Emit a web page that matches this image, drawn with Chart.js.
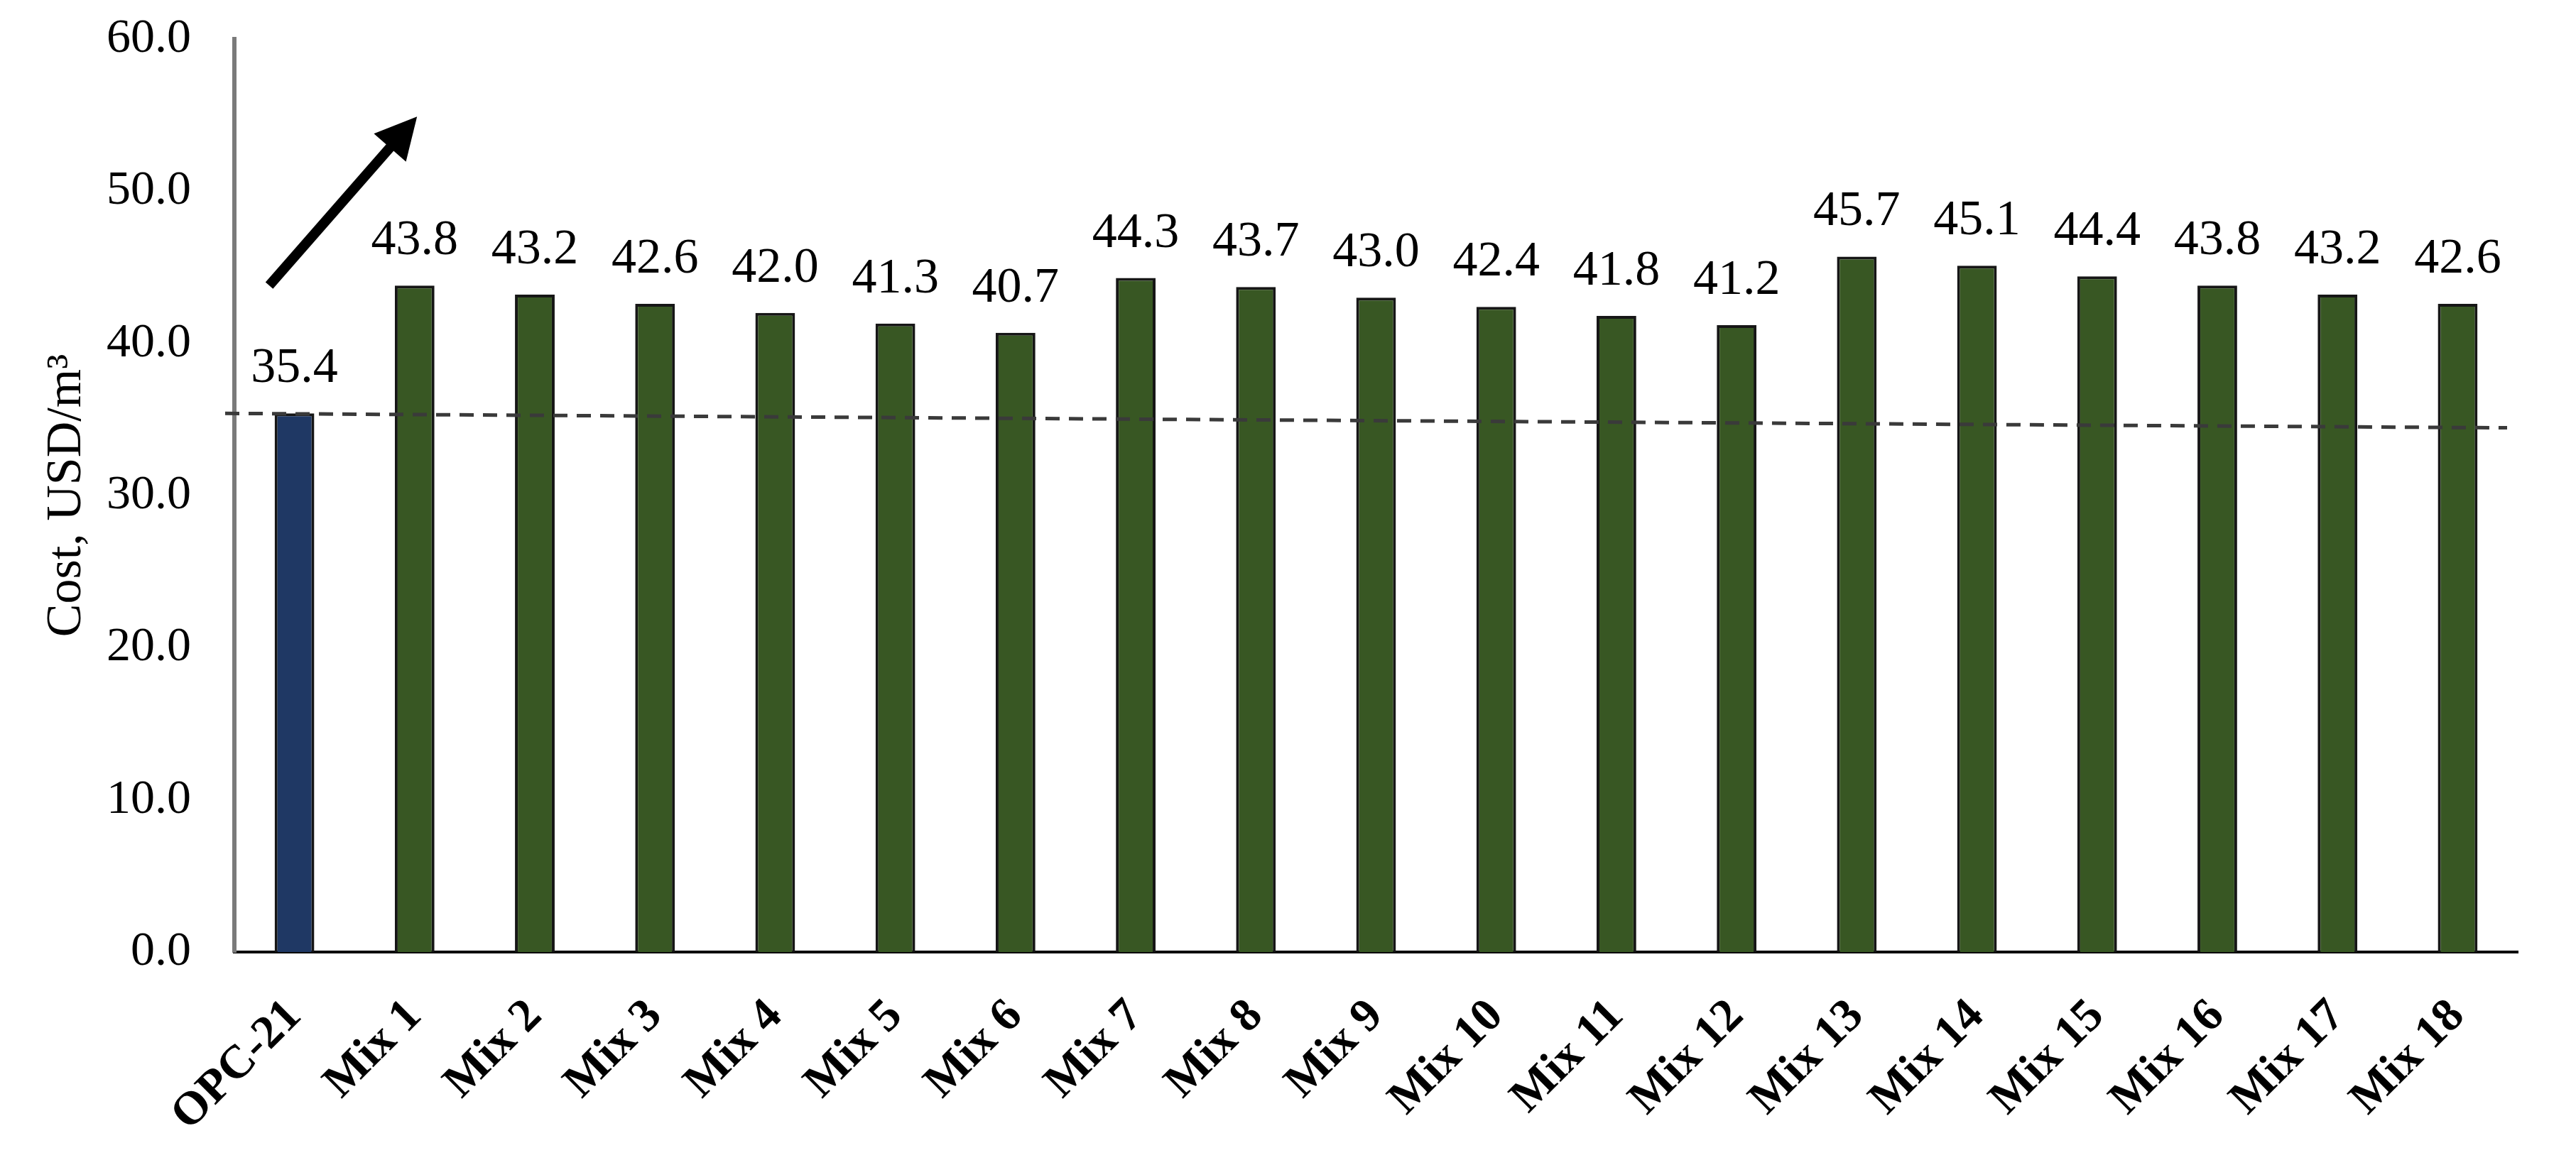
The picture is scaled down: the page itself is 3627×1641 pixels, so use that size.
<!DOCTYPE html>
<html>
<head>
<meta charset="utf-8">
<script src="https://cdn.jsdelivr.net/npm/chart.js@4/dist/chart.umd.min.js"></script>
<style>
  html, body { margin: 0; padding: 0; background: #ffffff; }
  #wrap { width: 3627px; height: 1641px; position: relative; }
</style>
</head>
<body>
<div id="wrap"><canvas id="c" width="3627" height="1641"></canvas></div>
<script>
// ---- data ----
const categories = ['OPC-21', 'Mix 1', 'Mix 2', 'Mix 3', 'Mix 4', 'Mix 5', 'Mix 6', 'Mix 7', 'Mix 8', 'Mix 9',
  'Mix 10', 'Mix 11', 'Mix 12', 'Mix 13', 'Mix 14', 'Mix 15', 'Mix 16', 'Mix 17', 'Mix 18'];
const costValues = [35.4, 43.8, 43.2, 42.6, 42.0, 41.3, 40.7, 44.3, 43.7, 43.0, 42.4, 41.8, 41.2,
  45.7, 45.1, 44.4, 43.8, 43.2, 42.6];
const yMin = 0, yMax = 60, yStep = 10;
const yTitle = 'Cost, USD/m³';
// dashed reference line: value at its left end and at its right end
const referenceLine = [35.4, 34.45];
// arrow annotation in data coordinates [category index, value]
const arrowFrom = [-0.21, 43.8];
const arrowTo = [1.02, 54.9];

const barColors = categories.map((c, i) => i === 0 ? '#1F3864' : '#385723');
const serif = "'Liberation Serif', 'Times New Roman', serif";

const overlayPlugin = {
  id: 'overlay',
  afterDatasetsDraw(chart) {
    const ctx = chart.ctx;
    const xs = chart.scales.x, ys = chart.scales.y;
    const area = chart.chartArea;
    ctx.save();
    // value labels
    const meta = chart.getDatasetMeta(0);
    ctx.font = '70px ' + serif;
    ctx.fillStyle = '#000';
    ctx.textAlign = 'center';
    ctx.textBaseline = 'alphabetic';
    meta.data.forEach((bar, i) => {
      ctx.fillText(costValues[i].toFixed(1), bar.x, bar.y - 44);
    });
    // dashed reference line
    ctx.beginPath();
    ctx.setLineDash([20, 13]);
    ctx.lineWidth = 5;
    ctx.strokeStyle = '#3a3a3a';
    ctx.moveTo(area.left - 13, ys.getPixelForValue(referenceLine[0]));
    ctx.lineTo(area.right - 15, ys.getPixelForValue(referenceLine[1]));
    ctx.stroke();
    ctx.setLineDash([]);
    // arrow
    const x1 = xs.getPixelForValue(arrowFrom[0]), y1 = ys.getPixelForValue(arrowFrom[1]);
    const x2 = xs.getPixelForValue(arrowTo[0]), y2 = ys.getPixelForValue(arrowTo[1]);
    const ang = Math.atan2(y2 - y1, x2 - x1);
    const headLen = 58, headHalf = 30;
    const bx = x2 - headLen * Math.cos(ang), by = y2 - headLen * Math.sin(ang);
    ctx.beginPath();
    ctx.lineWidth = 14;
    ctx.lineCap = 'butt';
    ctx.strokeStyle = '#000';
    ctx.moveTo(x1, y1);
    ctx.lineTo(bx + 5 * Math.cos(ang), by + 5 * Math.sin(ang));
    ctx.stroke();
    ctx.beginPath();
    ctx.fillStyle = '#000';
    ctx.moveTo(x2, y2);
    ctx.lineTo(bx + headHalf * Math.sin(ang), by - headHalf * Math.cos(ang));
    ctx.lineTo(bx - headHalf * Math.sin(ang), by + headHalf * Math.cos(ang));
    ctx.closePath();
    ctx.fill();
    ctx.restore();
  }
};

new Chart(document.getElementById('c'), {
  type: 'bar',
  data: {
    labels: categories,
    datasets: [{
      data: costValues,
      backgroundColor: barColors,
      borderColor: '#161616',
      borderWidth: 4,
      barPercentage: 0.33,
      categoryPercentage: 1.0
    }]
  },
  options: {
    responsive: false,
    animation: false,
    devicePixelRatio: 1,
    layout: { padding: { top: 55, right: 82, bottom: 0, left: 0 } },
    plugins: { legend: { display: false }, tooltip: { enabled: false } },
    scales: {
      x: {
        grid: { display: false, drawTicks: false },
        border: { display: true, color: '#000000', width: 4 },
        ticks: {
          autoSkip: false,
          maxRotation: 45,
          minRotation: 45,
          padding: 52,
          color: '#000',
          font: { family: serif, size: 66, weight: 'bold' }
        },
        afterFit(scale) { scale.height = 300; scale.paddingLeft = 0; scale.paddingRight = 0; }
      },
      y: {
        min: yMin,
        max: yMax,
        grid: { display: false, drawTicks: false },
        border: { display: true, color: '#7a7a7a', width: 6 },
        ticks: {
          stepSize: yStep,
          padding: 61,
          color: '#000',
          font: { family: serif, size: 68 },
          callback: v => Number(v).toFixed(1)
        },
        title: {
          display: true,
          text: yTitle,
          color: '#000',
          font: { family: serif, size: 70 },
          padding: { top: 53, bottom: 0 }
        },
        afterFit(scale) { scale.width = 330; scale.paddingTop = 0; scale.paddingBottom = 0; }
      }
    }
  },
  plugins: [overlayPlugin]
});
</script>
</body>
</html>
